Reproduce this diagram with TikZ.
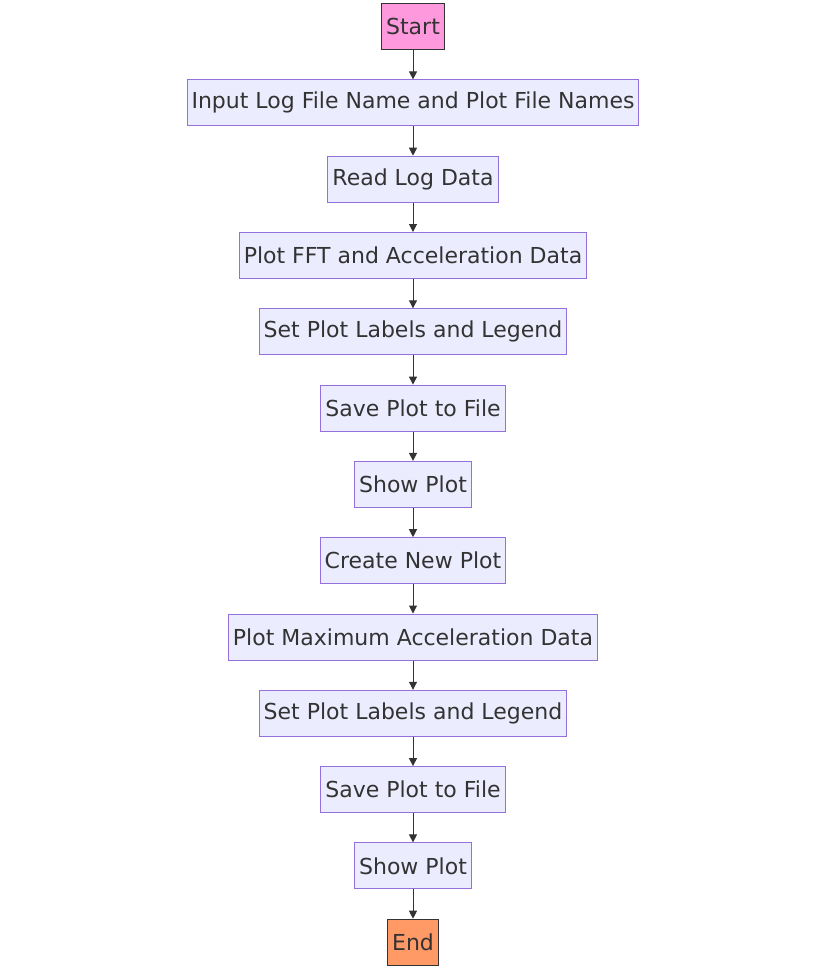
\documentclass[tikz,border=0pt]{standalone}
\usepackage{fontspec}
\setmainfont{DejaVu Sans}
\usetikzlibrary{positioning,arrows.meta}

\definecolor{boxfill}{HTML}{ECECFF}
\definecolor{boxline}{HTML}{9370DB}
\definecolor{txt}{HTML}{333333}
\definecolor{startfill}{HTML}{FF99DD}
\definecolor{endfill}{HTML}{FF9966}

\tikzset{
	stepbox/.style={draw=boxline, fill=boxfill, text=txt, line width=1pt,
		minimum height=46pt, inner xsep=4.5pt, font=\fontsize{22}{26}\selectfont},
	termbox/.style={stepbox, draw=txt, line width=1.2pt},
	flow/.style={draw=txt, line width=1pt, -{Triangle[length=8pt,width=8pt]}}
}

\begin{document}
\begin{tikzpicture}[node distance=29.3pt]
	\useasboundingbox (0,0) rectangle (827pt,-970pt);

	\node[termbox, fill=startfill] (start) at (413pt,-26.5pt) {Start};
	\node[stepbox, below=of start] (input) {Input Log File Name and Plot File Names};
	\node[stepbox, below=of input] (read) {Read Log Data};
	\node[stepbox, below=of read] (fft) {Plot FFT and Acceleration Data};
	\node[stepbox, below=of fft] (labels1) {Set Plot Labels and Legend};
	\node[stepbox, below=of labels1] (save1) {Save Plot to File};
	\node[stepbox, below=of save1] (show1) {Show Plot};
	\node[stepbox, below=of show1] (new) {Create New Plot};
	\node[stepbox, below=of new] (maxacc) {Plot Maximum Acceleration Data};
	\node[stepbox, below=of maxacc] (labels2) {Set Plot Labels and Legend};
	\node[stepbox, below=of labels2] (save2) {Save Plot to File};
	\node[stepbox, below=of save2] (show2) {Show Plot};
	\node[termbox, fill=endfill, below=of show2] (end) {End};

	\foreach \a/\b in {start/input, input/read, read/fft, fft/labels1,
		labels1/save1, save1/show1, show1/new, new/maxacc, maxacc/labels2,
		labels2/save2, save2/show2, show2/end}
		\draw[flow] (\a) -- (\b);
\end{tikzpicture}
\end{document}
